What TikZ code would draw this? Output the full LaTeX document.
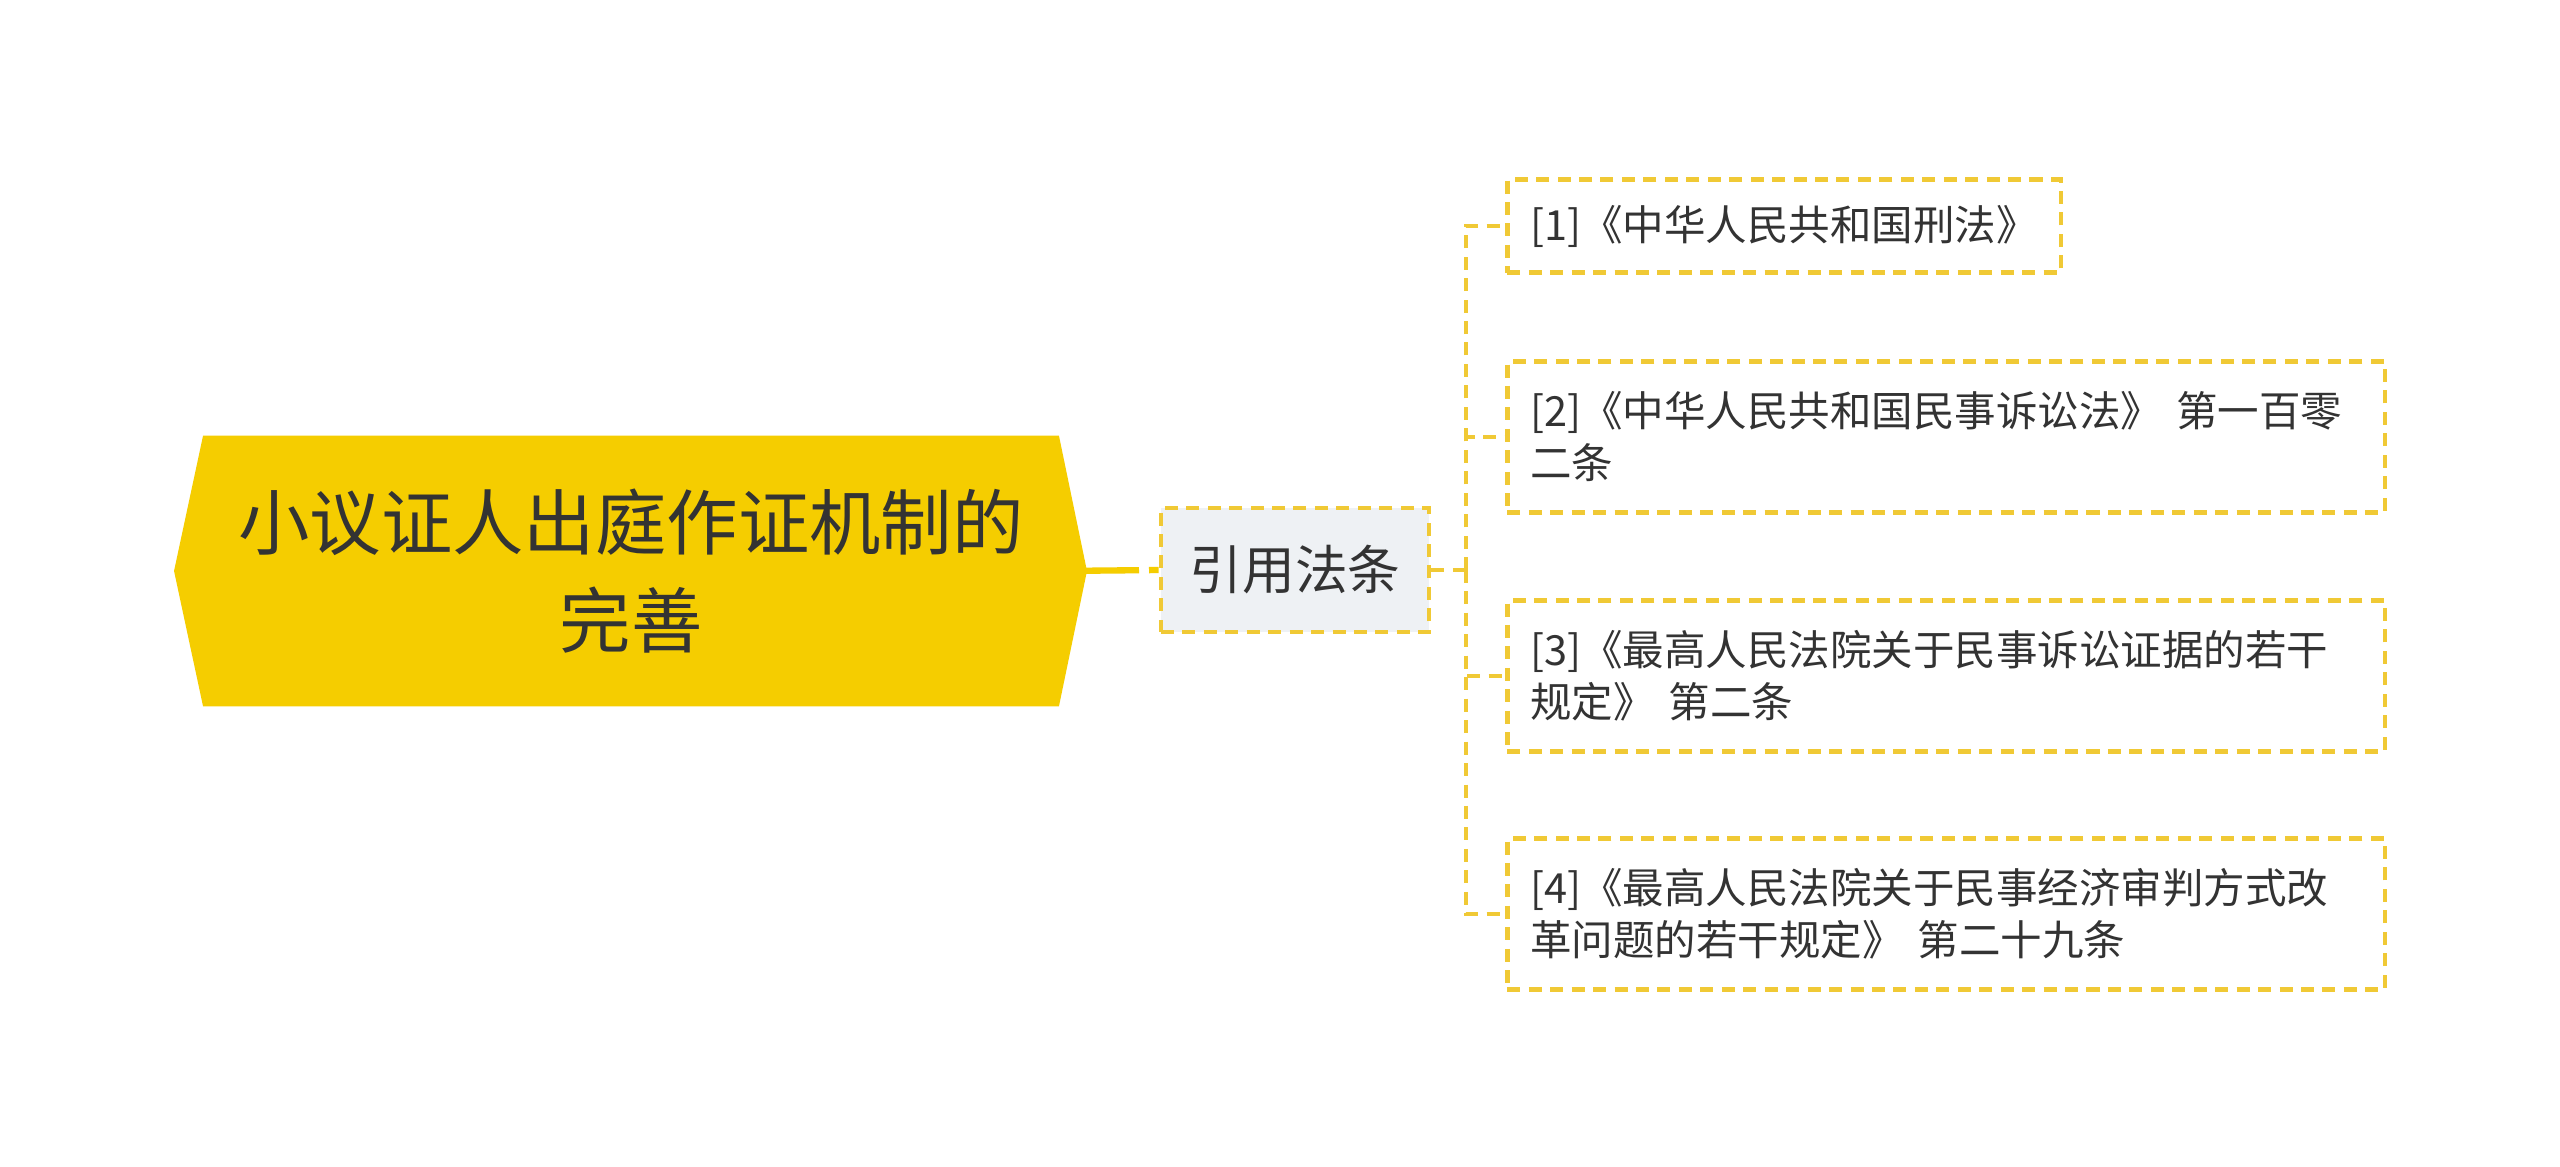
\documentclass[tikz,border=0pt]{standalone}
\usepackage{fontspec}
\setmainfont{Noto Sans CJK SC}
\usepackage{tikz}
\usetikzlibrary{
  positioning,
  backgrounds
}
\definecolor{rootyellow}{HTML}{F5CD00}
\definecolor{linkyellow}{HTML}{F0C935}
\definecolor{midgrey}{HTML}{EEF1F4}
\definecolor{txtgrey}{HTML}{333333}
\tikzset{
  rootbox/.style={minimum width=8.54cm, minimum height=2.69cm, inner sep=0pt,
    align=center, text=txtgrey, font=\fontsize{20.3}{27.8}\selectfont},
  midbox/.style={draw=linkyellow, fill=midgrey, line width=1.3pt,
    dash pattern=on 3.7pt off 2.4pt, minimum width=2.68cm, minimum height=1.24cm,
    inner sep=0pt, text=txtgrey, font=\fontsize{15}{18}\selectfont},
  leafbox/.style={draw=linkyellow, line width=1.3pt, dash pattern=on 3.7pt off 2.4pt,
    anchor=west, align=left, inner xsep=0.23cm, inner ysep=0pt,
    text=txtgrey, font=\fontsize{11.8}{14.8}\selectfont},
  linkline/.style={draw=linkyellow, line width=1.3pt, dash pattern=on 3.7pt off 2.4pt},
  rootline/.style={draw=rootyellow, line width=1.8pt, dash pattern=on 0.8cm off 0.1cm}
}
\begin{document}
\begin{tikzpicture}[x=0.01cm, y=-0.01cm]
    \useasboundingbox (0,0) rectangle (2560,1167);
    % nodes
    \node[rootbox] (root) at (631,571) {小议证人出庭作证机制的\\完善};
    \node[midbox] (mid) at (1295,570) {引用法条};
    \node[leafbox, minimum height=0.93cm] (l1) at (1505,226) {[1]《中华人民共和国刑法》};
    \node[leafbox, text width=8.31cm, minimum height=1.51cm] (l2) at (1505,437)
        {[2]《中华人民共和国民事诉讼法》 第一百零\\二条};
    \node[leafbox, text width=8.31cm, minimum height=1.51cm] (l3) at (1505,676)
        {[3]《最高人民法院关于民事诉讼证据的若干\\规定》 第二条};
    \node[leafbox, text width=8.31cm, minimum height=1.51cm] (l4) at (1505,914)
        {[4]《最高人民法院关于民事经济审判方式改\\革问题的若干规定》 第二十九条};
    \coordinate (fork) at (1466,570);
    % background
    \begin{pgfonlayer}{background}
    \fill[white] (0,0) rectangle (2560,1167);
    \fill[rootyellow] (root.north west) -- (root.north east) -- ([xshift=0.28cm]root.east)
        -- (root.south east) -- (root.south west) -- ([xshift=-0.29cm]root.west) -- cycle;
    \end{pgfonlayer}
    % links
    \draw[rootline] (root.east) -- (mid.west);
    \draw[linkline] (mid.east) -- (fork);
    \draw[linkline] (fork) |- (l1.west);
    \draw[linkline] (fork) |- (l2.west);
    \draw[linkline] (fork) |- (l3.west);
    \draw[linkline] (fork) |- (l4.west);
\end{tikzpicture}
\end{document}
